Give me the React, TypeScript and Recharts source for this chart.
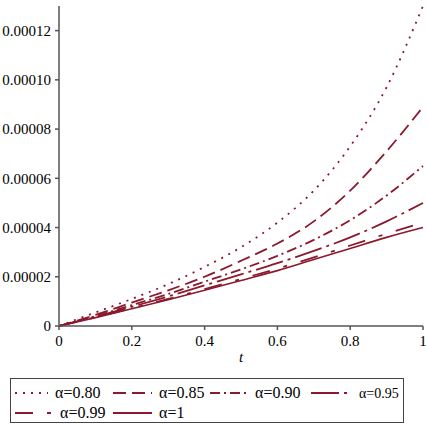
import React from 'react';
import { LineChart, Line, XAxis, YAxis, Legend } from 'recharts';

// time grid
const tValues = [0, 0.1, 0.2, 0.3, 0.4, 0.5, 0.6, 0.7, 0.8, 0.9, 1.0];

// solution values for each fractional order (units of 1e-5)
const alpha080 = [0, 0.55, 1.1, 1.7, 2.4, 3.2, 4.2, 5.5, 7.3, 9.7, 13.0];
const alpha085 = [0, 0.45, 0.95, 1.45, 2.0, 2.65, 3.35, 4.25, 5.5, 7.1, 8.9];
const alpha090 = [0, 0.4, 0.85, 1.3, 1.8, 2.3, 2.85, 3.5, 4.3, 5.3, 6.5];
const alpha095 = [0, 0.38, 0.78, 1.2, 1.65, 2.1, 2.55, 3.05, 3.6, 4.25, 5.0];
const alpha099 = [0, 0.35, 0.72, 1.1, 1.5, 1.91, 2.33, 2.79, 3.27, 3.75, 4.2];
const alpha100 = [0, 0.34, 0.7, 1.07, 1.45, 1.85, 2.25, 2.7, 3.15, 3.6, 4.0];

const xTicks = [0, 0.2, 0.4, 0.6, 0.8, 1];
const yTicks = [0, 0.00002, 0.00004, 0.00006, 0.00008, 0.0001, 0.00012];

const SCALE = 1e-5;
const COLOR = '#8b1a2e';
const FONT = "'Liberation Serif', 'Times New Roman', Tinos, 'Nimbus Roman', 'DejaVu Serif', serif";

const series = [
  { key: 'a080', label: 'α=0.80', values: alpha080, dash: '2 6', small: false },
  { key: 'a085', label: 'α=0.85', values: alpha085, dash: '13 6', small: false },
  { key: 'a090', label: 'α=0.90', values: alpha090, dash: '10 4 2 4', small: false },
  { key: 'a095', label: 'α=0.95', values: alpha095, dash: '28 5 3 5', small: true },
  { key: 'a099', label: 'α=0.99', values: alpha099, dash: '18 14 4 14', small: false },
  { key: 'a100', label: 'α=1', values: alpha100, dash: undefined, small: false },
];

const data = tValues.map((t, i) => {
  const row: Record<string, number> = { t };
  series.forEach((s) => {
    row[s.key] = s.values[i] * SCALE;
  });
  return row;
});

const fmtX = (v: number) => (v === 0 ? '0' : v === 1 ? '1' : v.toFixed(1));
const fmtY = (v: number) => (v === 0 ? '0' : v.toFixed(5));

// legend layout: two rows, sample line followed by its label
const legendSlots = [
  { x: 5, y: 15, w: 33 },
  { x: 103, y: 15, w: 39 },
  { x: 200, y: 15, w: 38 },
  { x: 301, y: 15, w: 40 },
  { x: 5, y: 35, w: 38 },
  { x: 103, y: 35, w: 39 },
];

const LegendBox = () => (
  <svg width={394} height={45} style={{ display: 'block' }}>
    <rect x={0.5} y={0.5} width={393} height={44} fill="#fff" stroke="#444" strokeWidth={1} />
    {series.map((s, i) => {
      const slot = legendSlots[i];
      return (
        <g key={s.key}>
          <line
            x1={slot.x}
            x2={slot.x + slot.w}
            y1={slot.y}
            y2={slot.y}
            stroke={COLOR}
            strokeWidth={1.8}
            strokeDasharray={s.dash}
          />
          <text
            x={slot.x + slot.w + (s.small ? 8 : 7)}
            y={slot.y + 5}
            style={{ fontFamily: FONT, fontSize: s.small ? 14 : 16, fill: '#000' }}
          >
            {s.label}
          </text>
        </g>
      );
    })}
  </svg>
);

const tickStyle = { fill: '#000', fontSize: 15, style: { fontFamily: FONT } };

export default function App() {
  return (
    <div style={{ position: 'absolute', left: 0, top: 0, background: '#fff', fontFamily: FONT }}>
      <LineChart
        width={427}
        height={427}
        data={data}
        margin={{ top: 6, right: 4, left: 0, bottom: 0 }}
        style={{ fontFamily: FONT }}
      >
        <XAxis
          dataKey="t"
          type="number"
          domain={[0, 1]}
          ticks={xTicks}
          tickFormatter={fmtX}
          height={101}
          stroke="#555"
          strokeWidth={1.5}
          tickSize={4}
          tickMargin={5}
          tick={tickStyle}
          label={{
            value: 't',
            position: 'insideTop',
            offset: 25,
            style: { fill: '#000', fontFamily: FONT, fontSize: 15, fontStyle: 'italic' },
          }}
        />
        <YAxis
          type="number"
          domain={[0, 0.00013]}
          ticks={yTicks}
          tickFormatter={fmtY}
          width={59}
          stroke="#555"
          strokeWidth={1.5}
          tickSize={4}
          tickMargin={4}
          tick={tickStyle}
        />
        <Legend
          layout="horizontal"
          verticalAlign="middle"
          align="center"
          content={<LegendBox />}
          wrapperStyle={{ position: 'absolute', left: 10, top: 378, width: 394, height: 45 }}
        />
        {series.map((s) => (
          <Line
            key={s.key}
            dataKey={s.key}
            name={s.label}
            type="monotone"
            stroke={COLOR}
            strokeWidth={s.dash ? 1.8 : 1.6}
            strokeDasharray={s.dash}
            dot={false}
            isAnimationActive={false}
          />
        ))}
      </LineChart>
    </div>
  );
}
